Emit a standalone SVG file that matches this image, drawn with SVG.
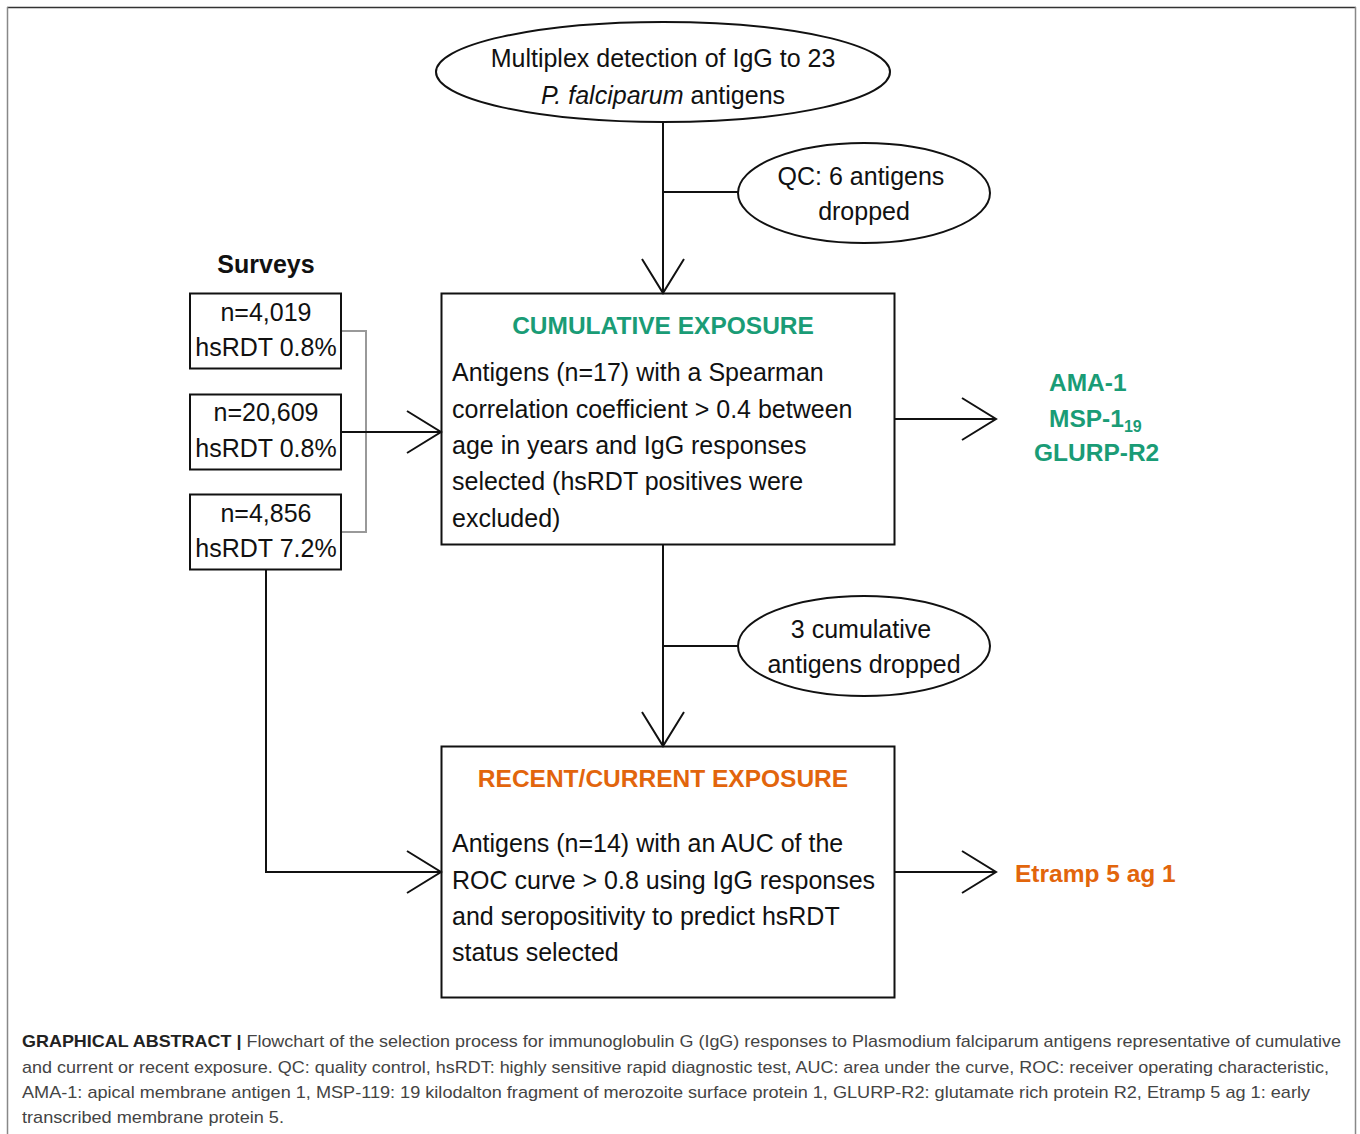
<svg xmlns="http://www.w3.org/2000/svg" width="1360" height="1134" viewBox="0 0 1360 1134">
<defs>
<style>
.t{font-family:"Liberation Sans",Arial,sans-serif;font-size:25px;fill:#111}
.c{text-anchor:middle}
.box{fill:none;stroke:#111;stroke-width:2}
.ln{fill:none;stroke:#111;stroke-width:2}
.green{font-family:"Liberation Sans",Arial,sans-serif;font-weight:bold;font-size:24.5px;fill:#1a9c76}
.orange{font-family:"Liberation Sans",Arial,sans-serif;font-weight:bold;font-size:24.5px;fill:#e2650c}
.cap{font-family:"Liberation Sans",Arial,sans-serif;font-size:17px;fill:#444}
</style>
<marker id="ah" viewBox="-36 -24 40 48" refX="0" refY="0" markerWidth="40" markerHeight="48" markerUnits="userSpaceOnUse" orient="auto">
<path d="M-34,-21 L0,0 L-34,21" fill="none" stroke="#111" stroke-width="2"/>
</marker>
</defs>
<rect width="1360" height="1134" fill="#fff"/>
<g id="frame">
<line x1="7" y1="7.5" x2="1356" y2="7.5" stroke="#333" stroke-width="1.5"/>
<line x1="7.5" y1="7" x2="7.5" y2="1134" stroke="#888" stroke-width="1.5"/>
<line x1="1355.5" y1="7" x2="1355.5" y2="1134" stroke="#888" stroke-width="1.5"/>
</g>
<g id="connectors">
<line class="ln" x1="663" y1="123" x2="663" y2="293" marker-end="url(#ah)"/>
<line class="ln" x1="663" y1="192" x2="739" y2="192"/>
<polyline points="341,331 366,331 366,532 341,532" fill="none" stroke="#999" stroke-width="2"/>
<line class="ln" x1="341" y1="432" x2="441" y2="432" marker-end="url(#ah)"/>
<line class="ln" x1="895" y1="419" x2="996" y2="419" marker-end="url(#ah)"/>
<line class="ln" x1="663" y1="545" x2="663" y2="746" marker-end="url(#ah)"/>
<line class="ln" x1="663" y1="646" x2="739" y2="646"/>
<polyline class="ln" points="266,570 266,872 441,872" marker-end="url(#ah)"/>
<line class="ln" x1="895" y1="872" x2="996" y2="872" marker-end="url(#ah)"/>
</g>
<g id="start">
<ellipse class="box" cx="663" cy="72" rx="227" ry="50"/>
<text class="t c" x="663" y="67">Multiplex detection of IgG to 23</text>
<text class="t c" x="663" y="104"><tspan font-style="italic">P. falciparum</tspan> antigens</text>
</g>
<g id="qc">
<ellipse class="box" cx="864" cy="193" rx="126" ry="50"/>
<text class="t c" x="861" y="185">QC: 6 antigens</text>
<text class="t c" x="864" y="220">dropped</text>
</g>
<g id="surveys-label">
<text class="t c" x="266" y="273" font-weight="bold" font-size="24">Surveys</text>
</g>
<g id="survey1">
<rect class="box" x="190" y="293.5" width="151" height="75"/>
<text class="t c" x="266" y="321">n=4,019</text>
<text class="t c" x="266" y="356">hsRDT 0.8%</text>
</g>
<g id="survey2">
<rect class="box" x="190" y="394.5" width="151" height="75"/>
<text class="t c" x="266" y="421">n=20,609</text>
<text class="t c" x="266" y="457">hsRDT 0.8%</text>
</g>
<g id="survey3">
<rect class="box" x="190" y="494.5" width="151" height="75"/>
<text class="t c" x="266" y="522">n=4,856</text>
<text class="t c" x="266" y="557">hsRDT 7.2%</text>
</g>
<g id="cumulative">
<rect class="box" x="441.5" y="293.5" width="453" height="251"/>
<text class="green c" x="663" y="334">CUMULATIVE EXPOSURE</text>
<text class="t" x="452" y="381">Antigens (n=17) with a Spearman</text>
<text class="t" x="452" y="418">correlation coefficient &gt; 0.4 between</text>
<text class="t" x="452" y="454">age in years and IgG responses</text>
<text class="t" x="452" y="490">selected (hsRDT positives were</text>
<text class="t" x="452" y="527">excluded)</text>
</g>
<g id="cumulative-result">
<text class="green" x="1049" y="391">AMA-1</text>
<text class="green" x="1049" y="427">MSP-1<tspan font-size="16" dy="5">19</tspan></text>
<text class="green" x="1034" y="461">GLURP-R2</text>
</g>
<g id="dropped3">
<ellipse class="box" cx="864" cy="646" rx="126" ry="50"/>
<text class="t c" x="861" y="638">3 cumulative</text>
<text class="t c" x="864" y="673">antigens dropped</text>
</g>
<g id="recent">
<rect class="box" x="441.5" y="746.5" width="453" height="251"/>
<text class="orange c" x="663" y="787">RECENT/CURRENT EXPOSURE</text>
<text class="t" x="452" y="852">Antigens (n=14) with an AUC of the</text>
<text class="t" x="452" y="889">ROC curve &gt; 0.8 using IgG responses</text>
<text class="t" x="452" y="925">and seropositivity to predict hsRDT</text>
<text class="t" x="452" y="961">status selected</text>
</g>
<g id="recent-result">
<text class="orange" x="1015" y="882">Etramp 5 ag 1</text>
</g>
<g id="caption">
<text class="cap" x="22" y="1047" textLength="1319" lengthAdjust="spacingAndGlyphs"><tspan font-weight="bold" fill="#222">GRAPHICAL ABSTRACT |</tspan> Flowchart of the selection process for immunoglobulin G (IgG) responses to Plasmodium falciparum antigens representative of cumulative</text>
<text class="cap" x="22" y="1073" textLength="1307" lengthAdjust="spacingAndGlyphs">and current or recent exposure. QC: quality control, hsRDT: highly sensitive rapid diagnostic test, AUC: area under the curve, ROC: receiver operating characteristic,</text>
<text class="cap" x="22" y="1098" textLength="1288" lengthAdjust="spacingAndGlyphs">AMA-1: apical membrane antigen 1, MSP-119: 19 kilodalton fragment of merozoite surface protein 1, GLURP-R2: glutamate rich protein R2, Etramp 5 ag 1: early</text>
<text class="cap" x="22" y="1123" textLength="262" lengthAdjust="spacingAndGlyphs">transcribed membrane protein 5.</text>
</g>
</svg>
